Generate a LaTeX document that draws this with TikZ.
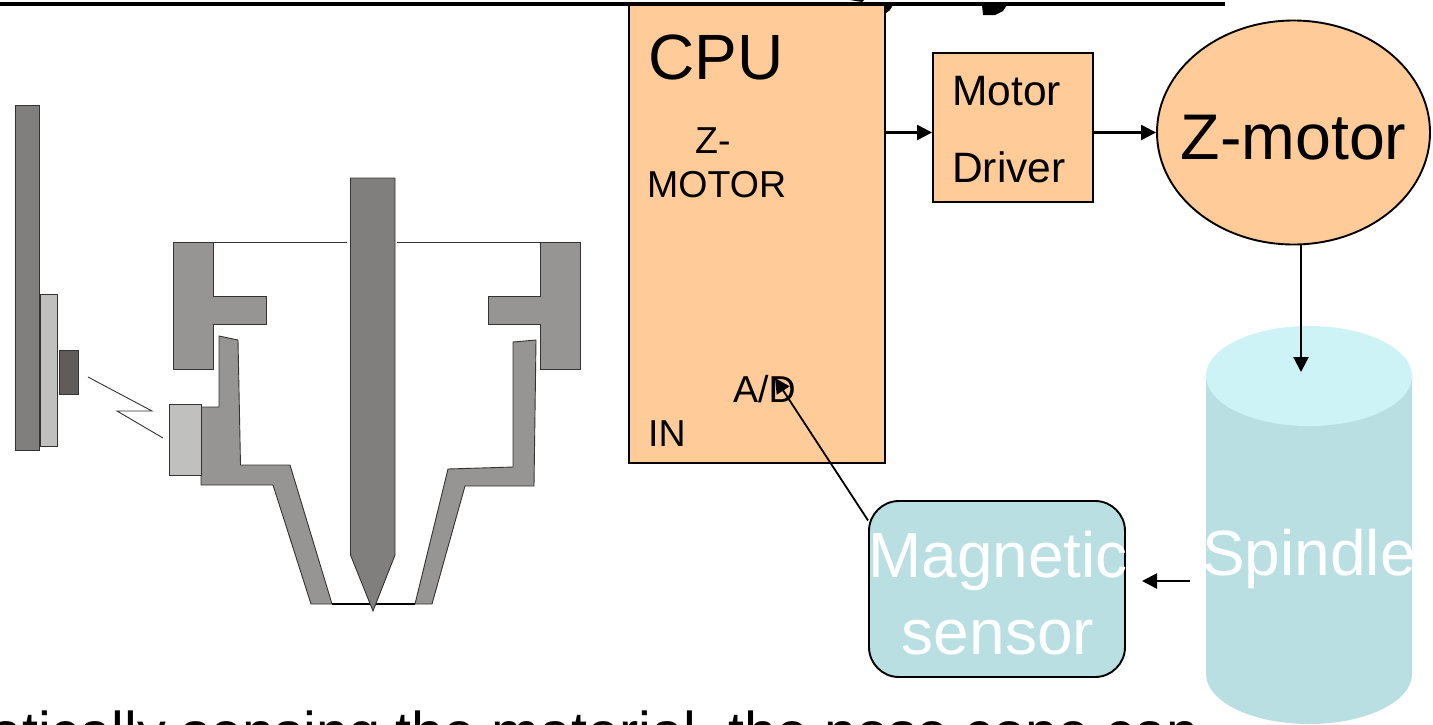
\documentclass[tikz,border=0pt]{standalone}
\usepackage{fontspec}
\setmainfont{Liberation Sans}
\usetikzlibrary{arrows.meta,shapes.geometric}
\definecolor{boxorange}{HTML}{FFCC99}
\definecolor{boxblue}{HTML}{B9DFE2}
\definecolor{capblue}{HTML}{CDF3F6}
\definecolor{needlegray}{HTML}{807F7D}
\definecolor{conegray}{HTML}{969593}
\definecolor{padgray}{HTML}{C0C0BE}
\definecolor{coredark}{HTML}{605C5A}
\tikzset{
  part/.style={draw=black!80,line width=0.9pt},
  thinline/.style={draw=black!80,line width=0.9pt},
  block/.style={draw=black,line width=1.9pt,fill=boxorange,inner sep=0pt},
  lbl/.style={inner sep=0pt,anchor=base west},
  conn/.style={line width=2.3pt,-{Triangle[length=15pt,width=15pt]}}
}
\newcommand{\sz}[1]{\fontsize{#1}{#1}\selectfont}

\begin{document}
\begin{tikzpicture}[x=1pt,y=-1pt]
\useasboundingbox (0,0) rectangle (1433,724);
\clip (0,0) rectangle (1433,724);

%left hand: rail, carrier and magnet
\draw[part,fill=needlegray] (15,105) rectangle (39,450);
\draw[part,fill=padgray] (40.5,294) rectangle (57.5,446);
\draw[part,fill=coredark] (59,350) rectangle (78,394);
\draw[thinline] (88,377) -- (152,411) -- (117,411) -- (163,438);

%nose cone holder
\draw[part,fill=conegray] (173.5,242) -- (213,242) -- (213,296) -- (266,296) -- (266,324) -- (213,324) -- (213,369) -- (173.5,369) -- cycle;
\draw[part,fill=conegray] (580,242) -- (540,242) -- (540,296) -- (488,296) -- (488,324) -- (540,324) -- (540,369) -- (580,369) -- cycle;
\draw[thinline] (213,242) -- (346.5,242);
\draw[thinline] (397,242) -- (540,242);

%nose cone, both halves
\draw[part,fill=conegray] (219,336) -- (238,340) -- (240.5,465) -- (290,465) -- (332,604) -- (311,604) -- (273,485) -- (201,485) -- (201,407) -- (219,407) -- cycle;
\draw[part,fill=conegray] (513,342) -- (536,340) -- (534,486) -- (465,486) -- (432,604) -- (415,604) -- (448,469) -- (513,467) -- cycle;
\draw[part,fill=padgray] (169.5,404) rectangle (201,475);
\draw[line width=1.2pt] (332,604) -- (415,604);

%the needle goes over the bottom line
\draw[part,fill=needlegray] (350.5,178) -- (395,178) -- (395,555) -- (373,611) -- (350.5,555) -- cycle;

%cpu box
\node[block,minimum width=256pt,minimum height=458pt] (cpu) at (757,234) {};
\node[lbl,font=\sz{64}] (cpulabel) at (648,79) {CPU};
\node[lbl,font=\sz{37.5}] (zlabel) at (695,153) {Z-};
\node[lbl,font=\sz{37.5}] (motorlabel) at (647,197) {MOTOR};
\node[lbl,font=\sz{37.5}] (adlabel) at (733,402) {A/D};
\node[lbl,font=\sz{37.5}] (inlabel) at (648,446) {IN};

%driver and motor
\node[block,minimum width=160pt,minimum height=149pt] (driver) at (1013,127.5) {};
\node[lbl,font=\sz{42.5}] (driverlabela) at (952,105) {Motor};
\node[lbl,font=\sz{42.5}] (driverlabelb) at (952,182.5) {Driver};
\node[block,ellipse,minimum width=273pt,minimum height=224pt] (zmotor) at (1293.5,132.5) {};
\node[inner sep=0pt,anchor=base,font=\sz{64.5}] (zmotorlabel) at (1293.5,159) {Z-motor};

%spindle
\fill[boxblue] (1206,376) -- (1206,674) arc[start angle=180,end angle=0,x radius=103,y radius=50] -- (1412,376) -- cycle;
\fill[capblue] (1309,376) ellipse[x radius=103,y radius=50];
\node[inner sep=0pt,anchor=base,text=white,font=\sz{64}] (spindle) at (1309,575) {Spindle};

%sensor
\node[draw=black,line width=1.9pt,fill=boxblue,rounded corners=30pt,minimum width=256pt,minimum height=176pt,inner sep=0pt] (sensor) at (997,589) {};
\node[inner sep=0pt,anchor=base,text=white,font=\sz{64}] (sensorlabela) at (998,577) {Magnetic};
\node[inner sep=0pt,anchor=base,text=white,font=\sz{64}] (sensorlabelb) at (998,654) {sensor};

%connectors
\coordinate (adpin) at (775,378);
\coordinate (spintop) at (1301,372);
\coordinate (spinout) at (1190,581);
\coordinate (sensorin) at (1142,581);
\draw[conn] (cpu.east |- zmotor) -- (driver.west |- zmotor);
\draw[conn] (driver.east |- zmotor) -- (zmotor.west);
\draw[conn] (zmotor.south -| spintop) -- (spintop);
\draw[conn] (spinout) -- (sensorin);
\draw[conn,line width=1.8pt] (sensor.152.7) -- (adpin);

%cut off heading and body text
\draw[line width=4pt] (0,4) -- (1225,4);
\fill (850,0) -- (864,0) -- (862,2) -- cycle;
\fill (884,5) -- (893,5) -- (890,10) -- (886,13) -- cycle;
\fill (982,5) -- (1007,5) -- (1003,11) -- (995,15) -- (983,15) -- cycle;
\node[lbl,font=\sz{57.5}] (bodytext) at (-10,752) {atically sensing the material, the nose cone can};
\end{tikzpicture}
\end{document}
